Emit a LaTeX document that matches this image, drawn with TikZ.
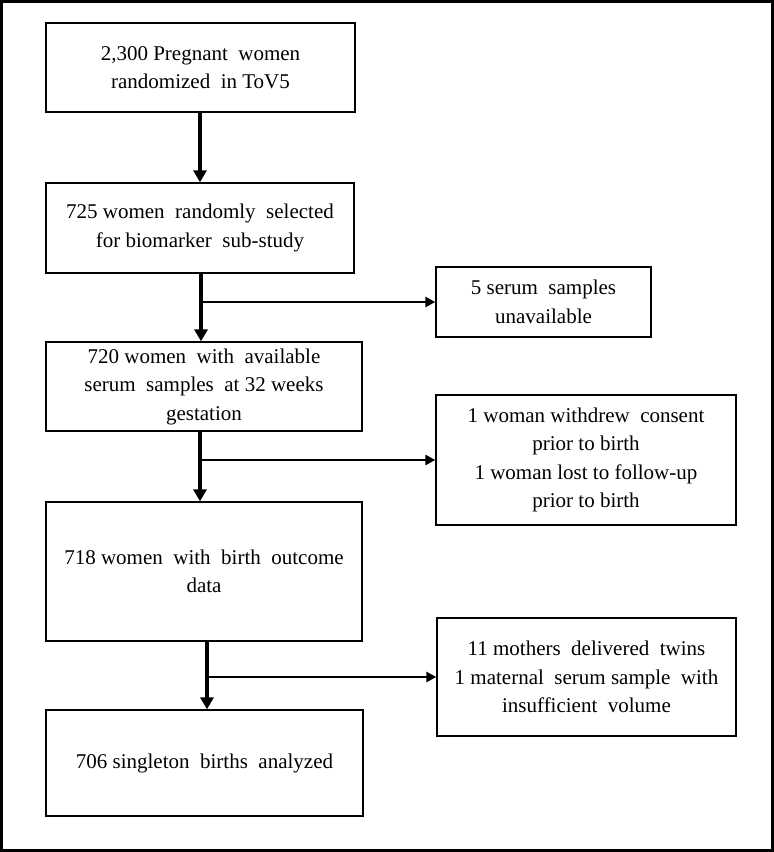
\documentclass[tikz,border=0pt]{standalone}
\usepackage{fontspec}
\setmainfont{Liberation Serif}
\usetikzlibrary{arrows.meta}
\begin{document}
\begin{tikzpicture}[x=1pt,y=-1pt,
  box/.style={draw=black,line width=1.3pt,fill=white,align=center,inner sep=0pt,
    font=\fontsize{21}{28.5}\selectfont},
  vline/.style={line width=3.8pt,-{Triangle[length=12pt,width=13pt]}},
  hline/.style={line width=2.6pt,-{Triangle[length=10pt,width=10pt]}}]
\useasboundingbox (0,0) rectangle (774,852);
\draw[line width=3pt] (1.5,1.5) rectangle (772.5,850.5);
\node[box,minimum width=309pt,minimum height=89pt] (b1) at (200.5,67.5)
  {2,300 Pregnant \ women\\randomized \ in ToV5};
\node[box,minimum width=308pt,minimum height=90pt] (b2) at (200,228)
  {725 women \ randomly \ selected\\for biomarker \ sub-study};
\node[box,minimum width=215pt,minimum height=70pt] (sA) at (543.5,302)
  {5 serum \ samples\\unavailable};
\node[box,minimum width=316pt,minimum height=89pt] (b3) at (204,386.5)
  {720 women \ with \ available\\serum \ samples \ at 32 weeks\\gestation};
\node[box,minimum width=300pt,minimum height=130pt] (sB) at (586,460)
  {1 woman withdrew \ consent\\prior to birth\\1 woman lost to follow-up\\prior to birth};
\node[box,minimum width=316pt,minimum height=139pt] (b4) at (204,571.5)
  {718 women \ with \ birth \ outcome\\data};
\node[box,minimum width=299pt,minimum height=118pt] (sC) at (586.5,677)
  {11 mothers \ delivered \ twins\\1 maternal \ serum sample \ with\\insufficient \ volume};
\node[box,minimum width=317pt,minimum height=106pt] (b5) at (204.5,763)
  {706 singleton \ births \ analyzed};
\coordinate (x1) at (200,0);
\coordinate (x2) at (201,0);
\coordinate (x3) at (200,0);
\coordinate (x4) at (207,0);
\draw[vline] (b1.south -| x1) -- (b2.north -| x1);
\draw[vline] (b2.south -| x2) -- (b3.north -| x2);
\draw[hline] (x2 |- sA.west) -- (sA.west);
\draw[vline] (b3.south -| x3) -- (b4.north -| x3);
\draw[hline] (x3 |- sB.west) -- (sB.west);
\draw[vline] (b4.south -| x4) -- (b5.north -| x4);
\draw[hline] (x4 |- sC.west) -- (sC.west);
\end{tikzpicture}
\end{document}
